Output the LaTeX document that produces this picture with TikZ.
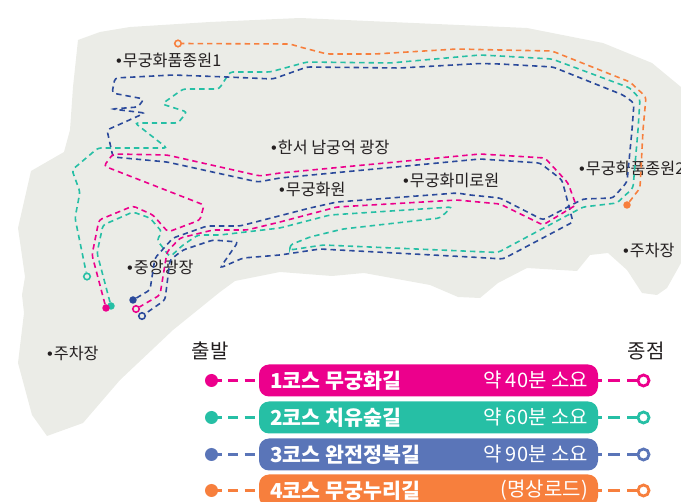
\documentclass[tikz,border=0pt]{standalone}
\usepackage{fontspec}
\setmainfont{Noto Sans CJK KR}
\newfontfamily\plainkr{Noto Sans CJK KR}
\newfontfamily\latfont{Liberation Sans}
\newcommand{\blt}{{\latfont •}\hspace{1pt}}
\definecolor{land}{HTML}{EBECE7}
\definecolor{cmag}{HTML}{EC008C}
\definecolor{cteal}{HTML}{26BFA5}
\definecolor{cblue}{HTML}{5A75B8}
\definecolor{cora}{HTML}{F77F3D}
\definecolor{cnavy}{HTML}{2B4A9B}
\definecolor{ink}{HTML}{231F20}
\tikzset{
  place/.style={anchor=west,inner sep=0pt,font=\fontsize{16.2}{18}\selectfont,text=ink},
  head/.style={inner sep=0pt,font=\fontsize{20}{22}\selectfont,text=ink},
  route/.style={line width=1.6pt,dash pattern=on 5.4pt off 4pt,rounded corners=3pt},
  startdot/.style={circle,inner sep=0pt,minimum size=7.5pt,fill=#1},
  enddot/.style={circle,inner sep=0pt,minimum size=6.5pt,draw=#1,line width=1.6pt,fill=none},
  bar/.style={rounded corners=10pt,fill=#1,minimum width=339pt,minimum height=32pt,inner sep=0pt},
  bartitle/.style={anchor=west,inner sep=0pt,text=white,font=\fontsize{20.6}{22}\selectfont\bfseries},
  barnote/.style={anchor=east,inner sep=0pt,text=white,font=\plainkr\fontsize{20}{22}\selectfont},
  legstart/.style={circle,inner sep=0pt,minimum size=13pt,fill=#1},
  legend/.style={circle,inner sep=0pt,minimum size=11pt,draw=#1,line width=2.8pt,fill=white},
  legline/.style={line width=2.7pt,draw=#1},
}
\begin{document}
\begin{tikzpicture}[x=1pt,y=-1pt]
\useasboundingbox (0,0) rectangle (681,502);
\clip (0,0) rectangle (681,502);
% land
\fill[land] (78,40) -- (100,32) -- (130,27) -- (210,22) -- (300,18) -- (527,28) -- (603,43) -- (652,63) -- (681,87)
 -- (681,263) -- (667,288) -- (657,295) -- (642,293) -- (627,270) -- (608,253) -- (590,255) -- (577,271) -- (527,268) -- (498,283) -- (480,298) -- (458,297) -- (430,285) -- (364,273) -- (332,276) -- (280,272) -- (235,281) -- (220,292) -- (173,330) -- (120,380) -- (83,423) -- (47,436) -- (32,415) -- (18,363) -- (24,313) -- (22,295) -- (25,277) -- (18,228) -- (31,171) -- (64,152) -- (70,130) -- (73,87) -- cycle;
% place names
\node[place] (p1) at (116,60) {\blt 무궁화품종원1};
\node[place] (p2) at (271,147) {\blt 한서 남궁억 광장};
\node[place] (p3) at (279,189) {\blt 무궁화원};
\node[place] (p4) at (403,180) {\blt 무궁화미로원};
\node[place] (p5) at (579,168) {\blt 무궁화품종원2};
\node[place] (p6) at (623,250) {\blt 주차장};
\node[place] (p7) at (127,267) {\blt 중앙광장};
\node[place] (p8) at (47,353) {\blt 주차장};
\node[head] (hs) at (210,351) {출발};
\node[head] (he) at (646,351) {종점};
% route ends
\node[startdot=cora] (s4) at (627,205) {};
\node[enddot=cora] (e4) at (178,43.5) {};
\node[startdot=cteal] (s2) at (111,306) {};
\node[enddot=cteal] (e2) at (87,276.5) {};
\node[startdot=cnavy] (s3) at (133,300) {};
\node[enddot=cnavy] (e3) at (142,316) {};
\node[startdot=cmag] (s1) at (106,308) {};
\node[enddot=cmag] (e1) at (136,309) {};
% course 4
\draw[route,cora] (s4) -- (640,188) -- (643,130) -- (646,97) -- (630,82) -- (552,51) -- (500,50) -- (457,49) -- (375,54) -- (327,54) -- (300,47) -- (290,44) -- (e4);
% course 2
\draw[route,cteal] (s2) -- (97,253) -- (103,225) -- (133,212) -- (150,218) -- (162,232) -- (157,240) -- (170,257) -- (183,245) -- (198,235) -- (220,235) -- (280,228) -- (330,215) -- (452,207) -- (440,218) -- (343,229) -- (310,237) -- (290,245) -- (290,250) -- (323,245) -- (498,252.5) -- (583,207) -- (617,203) -- (633,188) -- (638,130) -- (640,99) -- (630,88) -- (552,59) -- (500,56) -- (480,55) -- (390,63) -- (307,62) -- (270,72) -- (230,72) -- (219,89) -- (183,89) -- (162,104) -- (187,112) -- (178,123) -- (135,123) -- (167,148) -- (98,148) -- (72,170) -- (80,192) -- (75,218) -- (e2);
% course 3
\draw[route,cnavy] (s3) -- (150,290) -- (155,258) -- (173,238) -- (207,226) -- (240,226) -- (310,208) -- (337,202) -- (457,193) -- (470,195) -- (500,198) -- (543,220) -- (583,199) -- (613,198) -- (627,182) -- (632,130) -- (634,103) -- (623,95) -- (553,67) -- (500,64) -- (480,63.5) -- (400,68) -- (307,67) -- (273,79) -- (227,77) -- (173,75) -- (115,78) -- (112,93) -- (144,99) -- (138,107) -- (112,109) -- (145,113) -- (107,130) -- (113,157) -- (167,162) -- (258,182) -- (280,178) -- (480,159) -- (540,163) -- (562,180) -- (573,222) -- (503,259) -- (470,257) -- (320,249) -- (280,255) -- (243,258) -- (220,268) -- (238,242) -- (213,240) -- (183,250) -- (170,260) -- (165,300) -- (e3);
% course 1
\draw[route,cmag] (s1) -- (92,255) -- (99,220) -- (133,206) -- (153,215) -- (168,232) -- (200,220) -- (204,205) -- (104,166) -- (113,154) -- (167,155) -- (260,176) -- (280,173) -- (480,154) -- (545,158) -- (568,183) -- (576,205) -- (543,225) -- (500,204) -- (457,200) -- (337,207) -- (280,222) -- (247,230) -- (213,230) -- (180,238) -- (167,252) -- (160,295) -- (e1);
% legend
\foreach \i/\c/\y/\ta/\tb/\w in {1/cmag/380.5/1코스 무궁화길/약 40분 소요/,2/cteal/417.5/2코스 치유숲길/약 60분 소요/,3/cblue/454.5/3코스 완전정복길/약 90분 소요/,4/cora/490.5/4코스 무궁누리길/(명상로드)/}{
  \node[bar=\c] (bar\i) at (428.5,\y) {};
  \node[bartitle] (tt\i) at (270,\y) {\ta};
  \node[barnote] (tn\i) at (588,\y) {\tb};
  \node[legstart=\c] (ls\i) at (211.5,\y) {};
  \node[legend=\c] (le\i) at (643.5,\y) {};
  \draw[legline=\c,dash pattern=on 10pt off 6.5pt] (ls\i.center) -- (bar\i.west);
  \draw[legline=\c,dash pattern=on 4pt off 6pt on 12pt off 7pt on 20pt off 1pt] (bar\i.east) -- (le\i.west);
}
\end{tikzpicture}
\end{document}
